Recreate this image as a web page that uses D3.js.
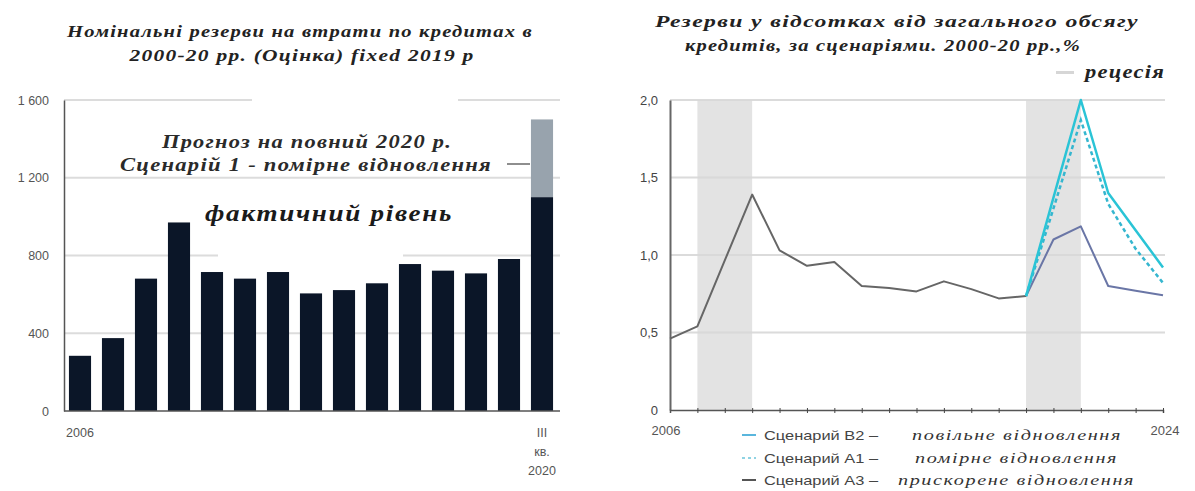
<!DOCTYPE html>
<html>
<head>
<meta charset="utf-8">
<script src="https://cdn.jsdelivr.net/npm/d3@7"></script>
<style>
  html, body { margin: 0; padding: 0; background: #fff; }
  svg { display: block; }
  .serif { font-family: "Liberation Serif", "DejaVu Serif", serif; font-style: italic; }
  .sans { font-family: "Liberation Sans", Arial, sans-serif; }
</style>
</head>
<body>
<svg id="chart" width="1195" height="491"></svg>
<script>
// ---- Loan-loss reserves, nominal (left panel) ----
const barCategories = ["2006","2007","2008","2009","2010","2011","2012","2013","2014","2015","2016","2017","2018","2019","III кв. 2020"];
const barActual = [284, 375, 681, 970, 715, 681, 715, 605, 622, 657, 756, 722, 708, 782, 1100];
const barForecastTotal = [null, null, null, null, null, null, null, null, null, null, null, null, null, null, 1500];
const barTicks = [0, 400, 800, 1200, 1600];

// ---- Reserves as % of loans, by scenario (right panel) ----
const histYears = [2006,2007,2008,2009,2010,2011,2012,2013,2014,2015,2016,2017,2018,2019];
const histValues = [0.46, 0.54, 0.965, 1.39, 1.03, 0.93, 0.955, 0.80, 0.787, 0.765, 0.83, 0.78, 0.72, 0.735];
const scenarioYears = [2019, 2020, 2021, 2022, 2023, 2024];
const scenarioB2 = [0.735, 1.37, 2.0, 1.40, 1.16, 0.92];
const scenarioA1 = [0.735, 1.30, 1.87, 1.33, 1.04, 0.82];
const scenarioA3 = [0.735, 1.10, 1.185, 0.80, 0.77, 0.74];
const recessions = [[2007, 2009], [2019, 2021]];
const pctTicks = [0, 0.5, 1.0, 1.5, 2.0];
const pctTickLabels = ["0", "0,5", "1,0", "1,5", "2,0"];

const legendItems = [
  { code: "Сценарий В2 –", text: "повільне відновлення", color: "#5ab6dd", dash: null },
  { code: "Сценарий А1 –", text: "помірне відновлення", color: "#8fd3e3", dash: "3,3" },
  { code: "Сценарий А3 –", text: "прискорене відновлення", color: "#555", dash: null }
];

const svg = d3.select("#chart");

// spaced italic serif text fitted to a given width
function fitText(sel, { x, y, w, size, bold, fill, spacing, anchor, text }) {
  return sel.append("text").attr("class", "serif")
    .attr("x", x).attr("y", y).attr("text-anchor", anchor || "middle")
    .attr("font-size", size).attr("font-weight", bold ? "bold" : "normal")
    .attr("fill", fill).attr("letter-spacing", spacing)
    .attr("textLength", w).attr("lengthAdjust", "spacingAndGlyphs")
    .text(text);
}

// ================= Left panel =================
const L = svg.append("g");
const xBar = d3.scaleBand().domain(barCategories).range([63.5, 558.5]).paddingInner(0.33).paddingOuter(0.165);
const yBar = d3.scaleLinear().domain([0, 1600]).range([411, 100]);

// gridlines
L.append("g").selectAll("line").data(barTicks.filter(d => d > 0)).join("line")
  .attr("x1", 64).attr("x2", 560)
  .attr("y1", d => yBar(d)).attr("y2", d => yBar(d))
  .attr("stroke", "#dcdcdc").attr("stroke-width", 2);

// forecast (full-year) segment
const barData = barCategories.map((c, i) => ({ c, v: barActual[i], f: barForecastTotal[i] }));
L.append("g").selectAll("rect").data(barData.filter(d => d.f != null)).join("rect")
  .attr("x", d => xBar(d.c)).attr("width", xBar.bandwidth())
  .attr("y", d => yBar(d.f)).attr("height", d => yBar(d.v) - yBar(d.f))
  .attr("fill", "#98a3ad");
// actual bars
L.append("g").selectAll("rect").data(barData).join("rect")
  .attr("x", d => xBar(d.c)).attr("width", xBar.bandwidth())
  .attr("y", d => yBar(d.v)).attr("height", d => yBar(0) - yBar(d.v))
  .attr("fill", "#0b1628");

// annotations with white backing
const ann = L.append("g");
ann.append("rect").attr("x", 252).attr("y", 94).attr("width", 206).attr("height", 14).attr("fill", "#fff");
ann.append("rect").attr("x", 218).attr("y", 240).attr("width", 185).attr("height", 20).attr("fill", "#fff");
fitText(ann, { x: 307, y: 148, w: 290, size: 18, bold: true, fill: "#2a2a2a", spacing: 1, text: "Прогноз на повний 2020 р." });
fitText(ann, { x: 306, y: 171, w: 372, size: 18, bold: true, fill: "#2a2a2a", spacing: 1, text: "Сценарій 1 - помірне відновлення" });
ann.append("line").attr("x1", 507).attr("x2", 530).attr("y1", 164).attr("y2", 164)
  .attr("stroke", "#444").attr("stroke-width", 1.2);
fitText(ann, { x: 329, y: 221, w: 248, size: 24, bold: true, fill: "#1a1a1a", spacing: 1.5, text: "фактичний рівень" });

// axes
const yAxisL = d3.axisLeft(yBar).tickValues(barTicks).tickSize(0).tickPadding(15)
  .tickFormat(d => d3.format(",")(d).replace(",", " "));
L.append("g").attr("transform", "translate(64,0)").call(yAxisL)
  .call(g => g.select(".domain").attr("stroke", "#555").attr("stroke-width", 1.5))
  .call(g => g.selectAll("text").attr("class", "sans").attr("font-size", 12.5).attr("fill", "#555"));
L.append("line").attr("x1", 64).attr("x2", 560).attr("y1", yBar(0)).attr("y2", yBar(0))
  .attr("stroke", "#555").attr("stroke-width", 1.5);

const xAxisL = d3.axisBottom(xBar).tickValues(["2006", "III кв. 2020"]).tickSize(0).tickPadding(0);
const gxl = L.append("g").attr("transform", "translate(0,411)").call(xAxisL);
gxl.select(".domain").remove();
gxl.selectAll("text").remove();
gxl.selectAll(".tick").each(function(d) {
  const lines = d.split(" ");
  const t = d3.select(this).append("text").attr("class", "sans").attr("font-size", 12.5)
    .attr("fill", "#555").attr("text-anchor", "middle");
  lines.forEach((s, i) => t.append("tspan").attr("x", 0).attr("y", 26 + i * 19).text(s));
});

// title
fitText(L, { x: 300, y: 37, w: 466, size: 17, bold: true, fill: "#222", spacing: 1, text: "Номінальні резерви на втрати по кредитах в" });
fitText(L, { x: 302, y: 61, w: 345, size: 17, bold: true, fill: "#222", spacing: 1, text: "2000-20 рр. (Оцінка) fixed 2019 р" });

// ================= Right panel =================
const R = svg.append("g");
const xYear = d3.scaleLinear().domain([2006, 2024]).range([670, 1163]);
const yPct = d3.scaleLinear().domain([0, 2]).range([410, 100]);

// recession shading
R.append("g").selectAll("rect").data(recessions).join("rect")
  .attr("x", d => xYear(d[0])).attr("width", d => xYear(d[1]) - xYear(d[0]))
  .attr("y", yPct(2)).attr("height", yPct(0) - yPct(2))
  .attr("fill", "#e3e3e3");

// gridlines
R.append("g").selectAll("line").data(pctTicks.filter(d => d > 0)).join("line")
  .attr("x1", 670).attr("x2", 1165)
  .attr("y1", d => yPct(d)).attr("y2", d => yPct(d))
  .attr("stroke", "#d8d8d8").attr("stroke-width", 2).attr("opacity", 0.9);

// axes
const yAxisR = d3.axisLeft(yPct).tickValues(pctTicks).tickSize(0).tickPadding(12)
  .tickFormat((d, i) => pctTickLabels[i]);
R.append("g").attr("transform", "translate(670,0)").call(yAxisR)
  .call(g => g.select(".domain").attr("stroke", "#666").attr("stroke-width", 2))
  .call(g => g.selectAll("text").attr("class", "sans").attr("font-size", 13).attr("fill", "#444"));

const xAxisR = d3.axisBottom(xYear).tickValues(d3.range(2007, 2025)).tickSize(3).tickFormat("");
R.append("g").attr("transform", "translate(0,410)").call(xAxisR)
  .call(g => g.select(".domain").attr("stroke", "#555").attr("stroke-width", 1.5))
  .call(g => g.selectAll(".tick line").attr("stroke", "#444").attr("y1", -2).attr("y2", 3));
R.append("g").selectAll("text").data([2006, 2024]).join("text")
  .attr("class", "sans").attr("font-size", 13).attr("fill", "#555").attr("text-anchor", "middle")
  .attr("x", d => xYear(d) + (d === 2006 ? -4 : 2)).attr("y", 435)
  .text(d => d);

// lines
const line = d3.line().x(d => xYear(d[0])).y(d => yPct(d[1]));
const zip = (xs, ys) => xs.map((x, i) => [x, ys[i]]);
R.append("path").datum(zip(histYears, histValues)).attr("d", line)
  .attr("fill", "none").attr("stroke", "#666").attr("stroke-width", 2).attr("stroke-linejoin", "round");
R.append("path").datum(zip(scenarioYears, scenarioA3)).attr("d", line)
  .attr("fill", "none").attr("stroke", "#6a76a6").attr("stroke-width", 2).attr("stroke-linejoin", "round");
R.append("path").datum(zip(scenarioYears, scenarioA1)).attr("d", line)
  .attr("fill", "none").attr("stroke", "#35b6cf").attr("stroke-width", 2.5).attr("stroke-dasharray", "4,3");
R.append("path").datum(zip(scenarioYears, scenarioB2)).attr("d", line)
  .attr("fill", "none").attr("stroke", "#2ac4d6").attr("stroke-width", 2.5).attr("stroke-linejoin", "round");

// legend
const lg = R.append("g");
const rowY = [435, 458, 480];
legendItems.forEach((it, i) => {
  const y = rowY[i];
  lg.append("line").attr("x1", 742).attr("x2", 756).attr("y1", y).attr("y2", y)
    .attr("stroke", it.color).attr("stroke-width", 2).attr("stroke-dasharray", it.dash);
  lg.append("text").attr("class", "sans").attr("font-size", 13).attr("fill", "#444")
    .attr("x", 764).attr("y", y + 4.5)
    .attr("textLength", 114).attr("lengthAdjust", "spacingAndGlyphs")
    .text(it.code);
});
const descX = [[912, 1122], [915, 1118], [898, 1135]];
legendItems.forEach((it, i) => {
  fitText(lg, { x: descX[i][0], y: rowY[i] + 5, w: descX[i][1] - descX[i][0], size: 15.5, bold: false,
    fill: "#333", spacing: 1.2, anchor: "start", text: it.text });
});

// title
fitText(R, { x: 897, y: 27, w: 484, size: 17, bold: true, fill: "#222", spacing: 1, text: "Резерви у відсотках від загального обсягу" });
fitText(R, { x: 883, y: 51, w: 396, size: 17, bold: true, fill: "#222", spacing: 1, text: "кредитів, за сценаріями. 2000-20 рр.,%" });
R.append("rect").attr("x", 1056).attr("y", 71).attr("width", 18).attr("height", 3).attr("fill", "#d6d6d6");
fitText(R, { x: 1085, y: 78, w: 80, size: 18, bold: true, fill: "#222", spacing: 1, anchor: "start", text: "рецесія" });
</script>
</body>
</html>
